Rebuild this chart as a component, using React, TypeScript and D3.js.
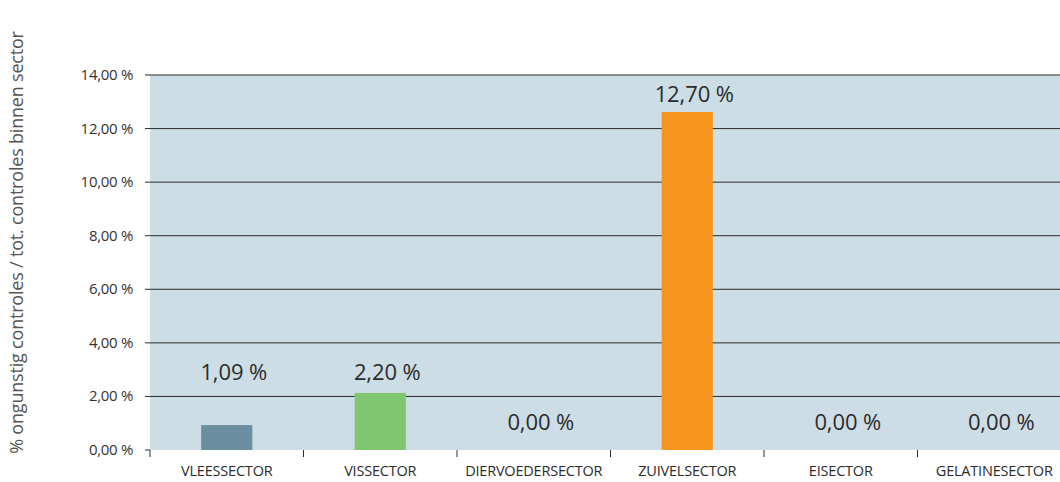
import React from "react";
import * as d3 from "d3";

const categories = ["VLEESSECTOR", "VISSECTOR", "DIERVOEDERSECTOR", "ZUIVELSECTOR", "EISECTOR", "GELATINESECTOR"];
const values = [0.93, 2.13, 0, 12.62, 0, 0];
const valueLabels = ["1,09 %", "2,20 %", "0,00 %", "12,70 %", "0,00 %", "0,00 %"];
const barColors = ["#6b8fa1", "#80c56f", "#cddde5", "#f7941d", "#cddde5", "#cddde5"];
const yTicks = [0, 2, 4, 6, 8, 10, 12, 14];
const yTitle = "% ongunstig controles / tot. controles binnen sector";

const W = 1060, H = 482;
const left = 150, top = 75, bottom = 450;
const step = 153.5;
const font = "'Open Sans', 'Noto Sans', sans-serif";

export default function App() {
  const x = d3.scaleBand<string>().domain(categories).range([left, left + step * categories.length]).paddingInner(2 / 3).paddingOuter(1 / 3);
  const y = d3.scaleLinear().domain([0, 14]).range([bottom, top]);
  const fmt = (v: number) => v.toFixed(2).replace(".", ",") + " %";
  const bounds = d3.range(categories.length + 1).map((i) => left + i * x.step());

  return (
    <svg width={W} height={H} style={{ position: "absolute", left: 0, top: 0, background: "#fff" }}>
      <rect x={left} y={top} width={W - left} height={bottom - top} fill="#cddde5" />
      {yTicks.map((t) => (
        <g key={t}>
          {t > 0 && <line x1={left - 5} x2={W} y1={y(t)} y2={y(t)} stroke="#2b2b2b" strokeWidth={1} />}
          {t === 0 && <line x1={left - 5} x2={left} y1={y(t)} y2={y(t)} stroke="#2b2b2b" strokeWidth={1} />}
          <text x={133} y={y(t) + 5} textAnchor="end" fontSize={15} fontFamily={font} fill="#333" letterSpacing={-0.3}>
            {fmt(t)}
          </text>
        </g>
      ))}
      {categories.map((c, i) => (
        <g key={c}>
          {values[i] > 0 && (
            <rect x={x(c)!} y={y(values[i])} width={x.bandwidth()} height={y(0) - y(values[i])} fill={barColors[i]} />
          )}
          <text
            x={x(c)! + x.bandwidth() / 2 + 7}
            y={values[i] > 0 ? Math.min(y(values[i]) - 10, y(2.6)) : y(0) - 20}
            textAnchor="middle"
            fontSize={22}
            fontFamily={font}
            fill="#2b2b2b"
            letterSpacing={-0.1}
          >
            {valueLabels[i]}
          </text>
          <text x={x(c)! + x.bandwidth() / 2} y={476} textAnchor="middle" fontSize={14.5} fontFamily={font} fill="#2b2b2b" letterSpacing={-0.2}>
            {c}
          </text>
        </g>
      ))}
      {bounds.map((b, i) => (
        <line key={i} x1={b} x2={b} y1={bottom} y2={bottom + 7} stroke="#2b2b2b" strokeWidth={1} />
      ))}
      <text
        transform={`translate(23, ${(30 + 455) / 2}) rotate(-90)`}
        textAnchor="middle"
        fontSize={18}
        fontFamily={font}
        fill="#555"
        letterSpacing={-0.2}
      >
        {yTitle}
      </text>
    </svg>
  );
}
